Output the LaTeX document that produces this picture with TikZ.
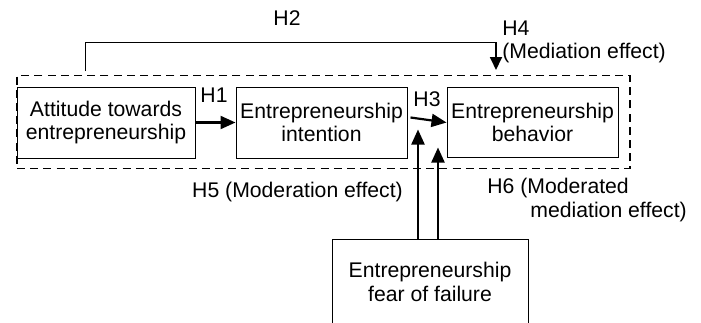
\documentclass[tikz,border=0pt]{standalone}
\usepackage{fontspec}
\setmainfont{Liberation Sans}
\usepackage{tikz}
\usetikzlibrary{arrows.meta, positioning, calc}
\tikzset{every node/.style={font=\fontsize{10.6}{11.6}\selectfont}}
\tikzset{
  varbox/.style={draw, line width=0.5pt, align=center, inner sep=0pt},
  groupbox/.style={draw, dashed, dash pattern=on 4pt off 2.6pt, line width=0.7pt, inner sep=0pt},
  hyp/.style={-{Triangle[length=7.5pt, width=6.5pt]}, line width=1.1pt}
}

\begin{document}
\begin{tikzpicture}[x=0.5pt, y=-0.5pt]
\useasboundingbox (0,0) rectangle (701,322);

% Mediation block
\node[groupbox, minimum width=306.5pt, minimum height=46.5pt] (grp) at (323.5,122) {};

% Variables
\node[varbox, minimum width=89pt, minimum height=35.5pt] (att) at (106,122.5)
  {Attitude towards\\entrepreneurship};
\node[varbox, minimum width=85.5pt, minimum height=35.5pt] (int) at (321.5,122.5)
  {Entrepreneurship\\intention};
\node[varbox, minimum width=85.5pt, minimum height=35pt] (beh) at (532.5,122.5)
  {Entrepreneurship\\behavior};
\node[varbox, minimum width=98pt, minimum height=43pt] (fof) at (430,282)
  {Entrepreneurship\\fear of failure};

% Direct paths
\draw[hyp] (att) -- (int);
\node (h1) at (214,95) {H1};
\draw[hyp] ($(int.east)+(3,-5)$) -- (beh.west);
\node (h3) at (427,99) {H3};

% H2 / H4 path over the block
\coordinate (h2start) at (85,71);
\coordinate (h4end) at (496,70);
\draw[line width=0.5pt] (h2start) |- (496,42);
\draw[hyp, -{Triangle[length=6.5pt, width=6pt]}, line width=0.9pt] (496,42) -- (h4end);
\node (h2) at (287,18) {H2};
\node[align=left, anchor=west, inner sep=0pt] (h4) at (502,42) {H4\\(Mediation effect)};

% Moderation
\draw[hyp] ($(fof.north)+(-12,0)$) -- ++(0,-109);
\draw[hyp] ($(fof.north)+(8,0)$) -- ++(0,-91);
\node (h5) at (297.5,192) {H5 (Moderation effect)};
\node[align=left, anchor=west, inner sep=0pt] (h6) at (487,200)
  {H6 (Moderated\\\hspace*{21.5pt}mediation effect)};

\end{tikzpicture}
\end{document}
